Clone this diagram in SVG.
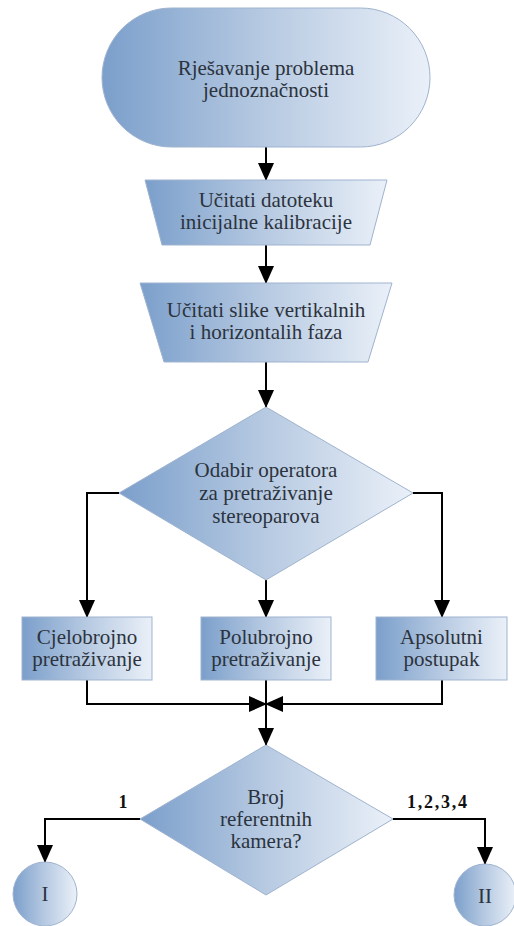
<svg xmlns="http://www.w3.org/2000/svg" width="514" height="926" viewBox="0 0 514 926">
<style>
  .shape { fill: url(#g); stroke: #9fb3cf; stroke-width: 1; }
  .t { font-family: "Liberation Serif", "Times New Roman", serif; font-size: 21px; fill: #2c333d; text-anchor: middle; }
  .lbl { font-family: "Liberation Serif", "Times New Roman", serif; font-size: 18px; font-weight: bold; fill: #111; text-anchor: middle; }
  .c { fill: none; stroke: #000; stroke-width: 2; }
</style>
<defs>
  <linearGradient id="g" x1="0" y1="0" x2="1" y2="0">
    <stop offset="0" stop-color="#7b9fcb"/>
    <stop offset="0.5" stop-color="#b7cae2"/>
    <stop offset="1" stop-color="#eaf0f8"/>
  </linearGradient>
  <marker id="ah" markerUnits="userSpaceOnUse" markerWidth="18" markerHeight="16" refX="17" refY="8" orient="auto">
    <path d="M0,0 L18,8 L0,16 Z" fill="#000"/>
  </marker>
</defs>
<rect width="514" height="926" fill="#fff"/>

<g id="connectors">
  <line class="c" x1="266" y1="147" x2="266" y2="180" marker-end="url(#ah)"/>
  <line class="c" x1="266" y1="245" x2="266" y2="283" marker-end="url(#ah)"/>
  <line class="c" x1="266" y1="362" x2="266" y2="407" marker-end="url(#ah)"/>
  <polyline class="c" points="119,493 87,493 87,617" marker-end="url(#ah)"/>
  <line class="c" x1="266" y1="580" x2="266" y2="617" marker-end="url(#ah)"/>
  <polyline class="c" points="413,493 442,493 442,617" marker-end="url(#ah)"/>
  <polyline class="c" points="87,680 87,704 266,704" marker-end="url(#ah)"/>
  <polyline class="c" points="442,680 442,704 266,704" marker-end="url(#ah)"/>
  <line class="c" x1="266" y1="680" x2="266" y2="745" marker-end="url(#ah)"/>
  <polyline class="c" points="140,819 45,819 45,862" marker-end="url(#ah)"/>
  <polyline class="c" points="393,819 485,819 485,864" marker-end="url(#ah)"/>
  <text class="lbl" x="123" y="808">1</text>
  <text class="lbl" x="437" y="808" textLength="60" lengthAdjust="spacing">1,2,3,4</text>
</g>

<g id="start">
  <rect class="shape" x="102" y="8" width="328" height="139" rx="69.5" ry="69.5"/>
  <text class="t" x="266" y="75">Rješavanje problema</text>
  <text class="t" x="266" y="97">jednoznačnosti</text>
</g>

<g id="load-calibration">
  <polygon class="shape" points="145,180 387,180 370,245 162,245"/>
  <text class="t" x="266" y="207">Učitati datoteku</text>
  <text class="t" x="266" y="229">inicijalne kalibracije</text>
</g>

<g id="load-images">
  <polygon class="shape" points="140,283 392,283 368,362 164,362"/>
  <text class="t" x="266" y="317">Učitati slike vertikalnih</text>
  <text class="t" x="266" y="339">i horizontalih faza</text>
</g>

<g id="choose-operator">
  <polygon class="shape" points="266,407 413,493 266,580 119,493"/>
  <text class="t" x="266" y="477">Odabir operatora</text>
  <text class="t" x="266" y="500">za pretraživanje</text>
  <text class="t" x="266" y="523">stereoparova</text>
</g>

<g id="integer-search">
  <rect class="shape" x="22" y="617" width="130" height="63"/>
  <text class="t" x="87" y="644">Cjelobrojno</text>
  <text class="t" x="87" y="666">pretraživanje</text>
</g>

<g id="half-search">
  <rect class="shape" x="201" y="617" width="130" height="63"/>
  <text class="t" x="266" y="644">Polubrojno</text>
  <text class="t" x="266" y="666">pretraživanje</text>
</g>

<g id="absolute">
  <rect class="shape" x="376" y="617" width="131" height="63"/>
  <text class="t" x="441.5" y="644">Apsolutni</text>
  <text class="t" x="441.5" y="666">postupak</text>
</g>

<g id="ref-cameras">
  <polygon class="shape" points="266,745 393,819 266,895 140,819"/>
  <text class="t" x="266" y="804">Broj</text>
  <text class="t" x="266" y="826">referentnih</text>
  <text class="t" x="266" y="848">kamera?</text>
</g>

<g id="connector-I">
  <circle class="shape" cx="45" cy="894" r="32"/>
  <text class="t" x="45" y="901">I</text>
</g>

<g id="connector-II">
  <circle class="shape" cx="485" cy="895" r="31"/>
  <text class="t" x="485" y="903">II</text>
</g>
</svg>
